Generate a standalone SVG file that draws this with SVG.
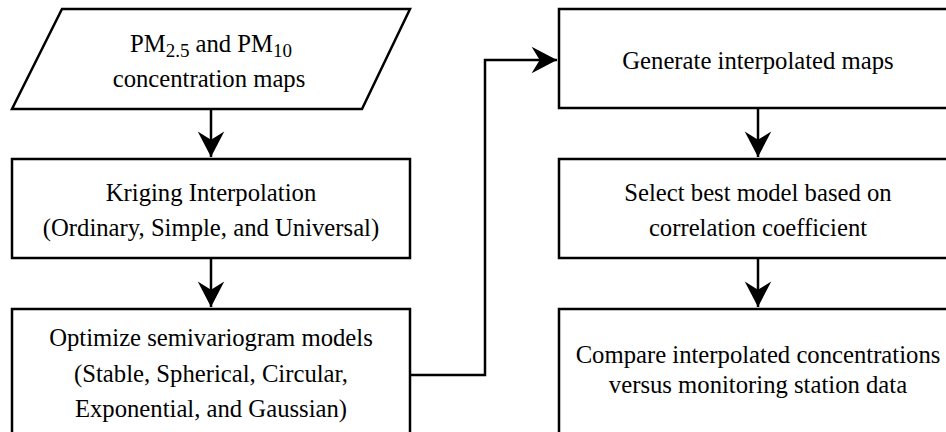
<svg xmlns="http://www.w3.org/2000/svg" width="946" height="432" viewBox="0 0 946 432">
<style>
.shape{fill:#fff;stroke:#000;stroke-width:2.5}
.conn{fill:none;stroke:#000;stroke-width:2.5}
.t text{font-size:24.7px;fill:#000;text-anchor:middle}
.sub{font-size:19px}
</style>
<defs>
<marker id="arr" markerUnits="userSpaceOnUse" markerWidth="30" markerHeight="30" viewBox="-24 -13 26 26" refX="0" refY="0" orient="auto" overflow="visible">
<path d="M0,0 L-22,-11.5 L-15,0 L-22,11.5 Z" fill="#000"/>
</marker>
</defs>
<rect width="946" height="432" fill="#fff"/>
<g id="connectors">
<line class="conn" x1="211" y1="109" x2="211" y2="157" marker-end="url(#arr)"/>
<line class="conn" x1="211" y1="258" x2="211" y2="307" marker-end="url(#arr)"/>
<polyline class="conn" points="410,375 485,375 485,60 557,60" marker-end="url(#arr)"/>
<line class="conn" x1="758" y1="108" x2="758" y2="157" marker-end="url(#arr)"/>
<line class="conn" x1="758" y1="258" x2="758" y2="307" marker-end="url(#arr)"/>
</g>
<g class="t" font-family="'Liberation Serif', 'Times New Roman', 'DejaVu Serif', serif">
<g id="node-input">
<polygon class="shape" points="62,9 410,9 362,109 12,109"/>
<text x="211" y="52">PM<tspan class="sub" dy="5">2.5</tspan><tspan dy="-5"> and PM</tspan><tspan class="sub" dy="5">10</tspan></text>
<text x="209" y="87">concentration maps</text>
</g>
<g id="node-kriging">
<rect class="shape" x="12" y="159" width="398" height="99"/>
<text x="211" y="201">Kriging Interpolation</text>
<text x="211" y="236">(Ordinary, Simple, and Universal)</text>
</g>
<g id="node-optimize">
<rect class="shape" x="12" y="309" width="398" height="140"/>
<text x="211" y="346">Optimize semivariogram models</text>
<text x="211" y="382">(Stable, Spherical, Circular,</text>
<text x="211" y="417">Exponential, and Gaussian)</text>
</g>
<g id="node-generate">
<rect class="shape" x="559" y="9" width="400" height="99"/>
<text x="758" y="69">Generate interpolated maps</text>
</g>
<g id="node-select">
<rect class="shape" x="559" y="159" width="400" height="99"/>
<text x="758" y="201">Select best model based on</text>
<text x="758" y="236">correlation coefficient</text>
</g>
<g id="node-compare">
<rect class="shape" x="559" y="309" width="400" height="140"/>
<text x="758" y="363">Compare interpolated concentrations</text>
<text x="758" y="393">versus monitoring station data</text>
</g>
</g>
</svg>
